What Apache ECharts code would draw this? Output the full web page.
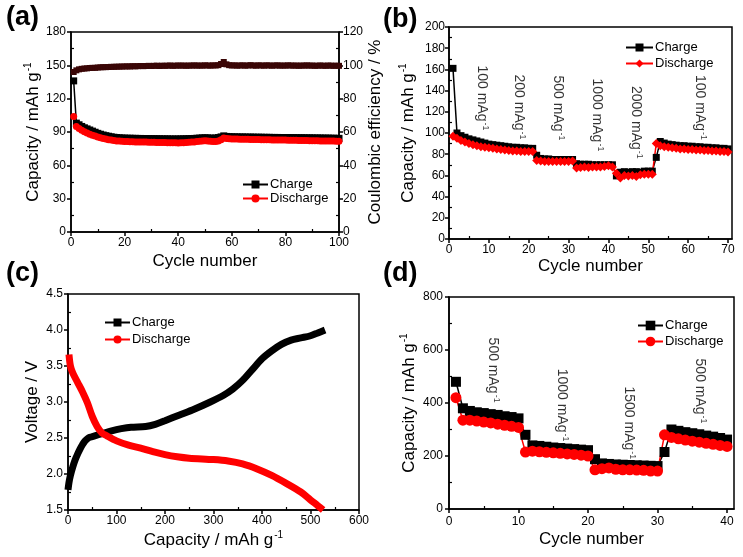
<!DOCTYPE html>
<html>
<head>
<meta charset="utf-8">
<script src="https://cdn.jsdelivr.net/npm/echarts@6/dist/echarts.min.js"></script>
<style>html,body{margin:0;padding:0;background:#fff}#c{width:743px;height:557px}</style>
</head>
<body>
<div id="c"></div>
<script>
// ---------- Panel (a): cycling at constant rate ----------
const aCycles = Array.from({length: 100}, (_, i) => i + 1);
const aCharge = [136, 98, 96.5, 95, 93.8, 92.8, 91.8, 90.8, 89.8, 88.8, 88, 87.3, 86.7, 86.2, 85.7, 85.3, 85, 84.8, 84.6, 84.5,
  84.4, 84.4, 84.3, 84.3, 84.2, 84.2, 84.1, 84.1, 84, 84,
  84, 83.9, 83.9, 83.8, 83.8, 83.8, 83.7, 83.7, 83.7, 83.7,
  83.8, 83.8, 83.9, 84, 84.1, 84.2, 84.4, 84.5, 84.7, 84.8,
  84.7, 84.5, 84.4, 84.6, 85, 85.6, 86.5, 86, 85.8, 85.7,
  85.6, 85.6, 85.5, 85.5, 85.5, 85.4, 85.4, 85.4, 85.3, 85.3,
  85.3, 85.2, 85.2, 85.2, 85.1, 85.1, 85.1, 85, 85, 85,
  85, 84.9, 84.9, 84.9, 84.8, 84.8, 84.8, 84.7, 84.7, 84.7,
  84.6, 84.6, 84.6, 84.5, 84.5, 84.5, 84.4, 84.4, 84.3, 84.3];
const aDischarge = [104, 95, 93.2, 91.6, 90.2, 89, 88, 87.1, 86.3, 85.5, 84.8, 84.2, 83.6, 83.1, 82.7, 82.3, 82, 81.8, 81.6, 81.5,
  81.4, 81.3, 81.2, 81.1, 81, 81, 80.9, 80.9, 80.8, 80.8,
  80.7, 80.6, 80.6, 80.5, 80.5, 80.4, 80.4, 80.3, 80.3, 80.2,
  80.3, 80.4, 80.5, 80.7, 80.9, 81.1, 81.4, 81.7, 82, 82.2,
  82, 81.7, 81.4, 81.5, 82, 83, 84.5, 84.2, 84, 83.8,
  83.7, 83.6, 83.5, 83.5, 83.4, 83.4, 83.3, 83.3, 83.2, 83.2,
  83.1, 83.1, 83, 83, 82.9, 82.9, 82.8, 82.8, 82.7, 82.7,
  82.6, 82.6, 82.5, 82.5, 82.4, 82.4, 82.3, 82.3, 82.2, 82.2,
  82.1, 82.1, 82, 82, 81.9, 81.9, 81.8, 81.8, 81.7, 81.7];
const aEfficiency = [96, 97, 97.6, 97.9, 98.1, 98.2, 98.4, 98.5, 98.5, 98.7, 98.8, 98.9, 98.9, 99, 99.1, 99.1, 99.2, 99.2, 99.3, 99.3,
  99.4, 99.3, 99.5, 99.4, 99.5, 99.6, 99.5, 99.6, 99.7, 99.6,
  99.7, 99.8, 99.6, 99.8, 99.7, 99.8, 99.9, 99.7, 99.8, 99.9,
  99.8, 99.9, 99.7, 99.9, 99.8, 100, 99.8, 99.9, 99.8, 100,
  99.9, 99.8, 100, 99.9, 100.1, 100.8, 102, 100.6, 100.1, 99.9,
  100, 99.8, 99.9, 100, 99.8, 99.9, 100.1, 99.9, 99.8, 100,
  99.9, 99.8, 100, 99.9, 99.8, 99.9, 100, 99.8, 99.9, 99.8,
  100, 99.9, 99.8, 99.9, 99.7, 99.9, 99.8, 100, 99.8, 99.9,
  99.7, 99.8, 99.9, 99.8, 99.7, 99.9, 99.8, 99.7, 99.8, 99.7];

// ---------- Panel (b): rate capability ----------
const bCycles = Array.from({length: 70}, (_, i) => i + 1);
const bCharge = [161, 100, 97.5, 96, 94.5, 93.5, 92.5, 91.5, 90.5, 89.5, 89,
  88.5, 88, 87.5, 87, 86.5, 86.5, 86, 86, 85.5, 85.5,
  79, 76, 75.5, 75.5, 75, 75, 75, 75, 75, 75,
  71, 70.5, 70.5, 70.5, 70, 70, 70, 70, 70, 70,
  59.5, 63, 63.5, 63, 63.5, 63.5, 63, 64, 64, 64,
  77, 92, 90.5, 89.5, 89, 88.5, 88, 88, 87.5, 87.5,
  87, 87, 86.5, 86.5, 86, 86, 85.5, 85.5, 85];
const bDischarge = [97, 95, 93, 91.5, 90, 89, 88, 87, 86.5, 86, 85.5,
  85, 84.5, 84, 83.5, 83, 83, 82.5, 82.5, 82.5, 82.5,
  74, 73.5, 73, 73, 73, 73, 73, 73, 73, 73.5,
  67, 67.5, 68, 67.5, 68, 68, 68, 68.5, 69, 68,
  62, 57.5, 60, 59.5, 60, 59, 60.5, 61, 61, 61,
  90, 88, 87, 86.5, 86, 85.5, 85, 85, 84.5, 84.5,
  84, 84, 83.5, 83.5, 83, 83, 82.5, 82.5, 82];
const bRates = ['100', '200', '500', '1000', '2000', '100'];
const bRateX = [8.3, 17.6, 27.4, 37.1, 46.9, 63];
const bRateY = [133, 124.5, 123.6, 117, 110, 124];
const bTickLabels = [0, 10, 20, 30, 40, 50, 60, 70];

// ---------- Panel (c): charge/discharge profile ----------
const cChargeCap = [0, 2, 5, 10, 15, 20, 25, 30, 35, 40, 45, 55, 70, 90, 110, 130, 160, 180, 200, 230, 260, 290, 320, 340, 360, 380, 400, 420, 440, 460, 480, 500, 515, 530];
const cChargeV = [1.78, 1.88, 1.98, 2.1, 2.2, 2.28, 2.35, 2.41, 2.46, 2.49, 2.51, 2.53, 2.56, 2.6, 2.63, 2.65, 2.66, 2.69, 2.74, 2.82, 2.9, 2.99, 3.09, 3.18, 3.3, 3.45, 3.6, 3.71, 3.8, 3.86, 3.89, 3.92, 3.96, 4.0];
const cDischargeCap = [2, 5, 10, 20, 30, 40, 50, 60, 70, 80, 100, 125, 150, 175, 200, 225, 250, 300, 330, 360, 390, 420, 450, 480, 500, 515, 526];
const cDischargeV = [3.66, 3.5, 3.4, 3.27, 3.14, 2.99, 2.8, 2.66, 2.57, 2.53, 2.46, 2.4, 2.36, 2.31, 2.27, 2.24, 2.22, 2.2, 2.18, 2.14, 2.07, 1.98, 1.87, 1.75, 1.64, 1.56, 1.5];

// ---------- Panel (d): rate capability ----------
const dCycles = Array.from({length: 40}, (_, i) => i + 1);
const dCharge = [480, 380, 370, 365, 362, 358, 355, 350, 347, 342,
  280, 240, 238, 235, 232, 230, 228, 226, 224, 222,
  188, 172, 170, 168, 167, 166, 165, 164, 163, 162,
  215, 300, 295, 290, 286, 282, 277, 273, 268, 262];
const dDischarge = [420, 335, 335, 332, 328, 325, 320, 316, 312, 308,
  215, 218, 216, 214, 212, 210, 208, 206, 203, 200,
  148, 152, 155, 150, 148, 148, 147, 146, 143, 143,
  280, 270, 265, 260, 256, 252, 248, 244, 240, 236];
const dRates = ['500', '1000', '1500', '500'];
const dRateX = [6.3, 16.2, 25.9, 36.1];
const dRateY = [524, 392, 325, 445];
const dTickLabels = [0, 10, 20, 30, 40];

// ---------- Styling ----------
const FONT = '"Liberation Sans", Arial, Helvetica, sans-serif';
const BLACK = '#000000';
const RED = '#ff0000';
const CE = '#3a0606';

const richName = {
  m: {fontFamily: FONT, fontSize: 17, color: BLACK, lineHeight: 20},
  s: {fontFamily: FONT, fontSize: 10, color: BLACK, lineHeight: 20, verticalAlign: 'top', padding: [0, 0, 8, 1]}
};
const richAnn = {
  m: {fontFamily: FONT, fontSize: 14, color: BLACK, lineHeight: 16},
  s: {fontFamily: FONT, fontSize: 9, color: BLACK, lineHeight: 16, verticalAlign: 'top', padding: [0, 0, 7, 1]}
};

function pair(xs, ys) { return xs.map((x, i) => [x, ys[i]]); }

function axis(o) {
  const base = {
    axisLine: {show: true, onZero: false, lineStyle: {color: BLACK, width: 1.5}},
    axisTick: {show: true, inside: false, length: 4, lineStyle: {color: BLACK, width: 1.5}},
    minorTick: {show: true, splitNumber: 2, length: -3, lineStyle: {color: BLACK, width: 1.2}},
    splitLine: {show: false},
    axisLabel: {color: BLACK, fontFamily: FONT, fontSize: 12, margin: 5},
    nameLocation: 'middle',
    nameTextStyle: {color: BLACK, fontFamily: FONT, fontSize: 17, rich: richName}
  };
  const r = Object.assign({}, base, o);
  if (o.axisLabel) r.axisLabel = Object.assign({}, base.axisLabel, o.axisLabel);
  if (o.axisTick) r.axisTick = Object.assign({}, base.axisTick, o.axisTick);
  return r;
}

const gridBox = {show: true, borderColor: BLACK, borderWidth: 1.5, backgroundColor: 'transparent', containLabel: false};

const legendBase = {
  orient: 'vertical', itemWidth: 25, itemHeight: 10, itemGap: 3,
  textStyle: {color: BLACK, fontFamily: FONT, fontSize: 13, padding: [0, 0, 0, -3]},
  formatter: n => n.split('|')[0],
  selectedMode: false
};

const option = {
  animation: false,
  backgroundColor: '#fff',
  grid: [
    Object.assign({left: 71, top: 32, width: 268, height: 200}, gridBox),
    Object.assign({left: 449, top: 27, width: 283, height: 212}, gridBox),
    Object.assign({left: 68, top: 294, width: 291, height: 216}, gridBox),
    Object.assign({left: 449, top: 297, width: 285, height: 212}, gridBox)
  ],
  xAxis: [
    axis({type: 'value', gridIndex: 0, min: 0, max: 100, interval: 20, name: 'Cycle number', nameGap: 21}),
    axis({type: 'value', gridIndex: 1, min: 0, max: 71, interval: 10, name: 'Cycle number', nameGap: 19,
      axisLabel: {customValues: bTickLabels}, axisTick: {customValues: bTickLabels}}),
    axis({type: 'value', gridIndex: 2, min: 0, max: 600, interval: 100, name: '{m|Capacity / mAh g}{s|-1}', nameGap: 20}),
    axis({type: 'value', gridIndex: 3, min: 0, max: 41, interval: 10, name: 'Cycle number', nameGap: 22,
      axisLabel: {margin: 7, customValues: dTickLabels}, axisTick: {customValues: dTickLabels}})
  ],
  yAxis: [
    axis({type: 'value', gridIndex: 0, min: 0, max: 180, interval: 30, name: '{m|Capacity / mAh g}{s|-1}', nameGap: 27, nameRotate: 90}),
    axis({type: 'value', gridIndex: 0, position: 'right', min: 0, max: 120, interval: 20, name: 'Coulombic efficiency / %', nameGap: 24, nameRotate: 90,
      axisLabel: {margin: 4}}),
    axis({type: 'value', gridIndex: 1, min: 0, max: 200, interval: 20, name: '{m|Capacity / mAh g}{s|-1}', nameGap: 31, nameRotate: 90,
      axisLabel: {margin: 4}}),
    axis({type: 'value', gridIndex: 2, min: 1.5, max: 4.5, interval: 0.5, name: 'Voltage / V', nameGap: 27, nameRotate: 90,
      axisLabel: {formatter: v => v.toFixed(1)}}),
    axis({type: 'value', gridIndex: 3, min: 0, max: 800, interval: 200, name: '{m|Capacity / mAh g}{s|-1}', nameGap: 30, nameRotate: 90,
      axisLabel: {margin: 6}})
  ],
  legend: [
    Object.assign({}, legendBase, {left: 237, top: 173, itemGap: 1, data: ['Charge|a', 'Discharge|a']}),
    Object.assign({}, legendBase, {left: 620, top: 36, itemWidth: 27, data: ['Charge|b', 'Discharge|b']}),
    Object.assign({}, legendBase, {left: 99, top: 311, itemGap: 4, data: ['Charge|c', 'Discharge|c']}),
    Object.assign({}, legendBase, {left: 632, top: 314, itemHeight: 12, data: ['Charge|d', 'Discharge|d']})
  ],
  graphic: [
    {type: 'text', left: 6, top: 4, style: {text: '(a)', font: 'bold 27px ' + FONT, fill: BLACK}},
    {type: 'text', left: 383, top: 6, style: {text: '(b)', font: 'bold 27px ' + FONT, fill: BLACK}},
    {type: 'text', left: 6, top: 260, style: {text: '(c)', font: 'bold 27px ' + FONT, fill: BLACK}},
    {type: 'text', left: 383, top: 260, style: {text: '(d)', font: 'bold 27px ' + FONT, fill: BLACK}}
  ],
  series: [
    // (a)
    {name: 'Coulombic efficiency', type: 'line', xAxisIndex: 0, yAxisIndex: 1, data: pair(aCycles, aEfficiency),
      symbol: 'rect', symbolSize: 6, lineStyle: {color: CE, width: 4}, itemStyle: {color: CE}},
    {name: 'Charge|a', type: 'line', xAxisIndex: 0, yAxisIndex: 0, data: pair(aCycles, aCharge),
      symbol: 'rect', symbolSize: 7, lineStyle: {color: BLACK, width: 1.5}, itemStyle: {color: BLACK}},
    {name: 'Discharge|a', type: 'line', xAxisIndex: 0, yAxisIndex: 0, data: pair(aCycles, aDischarge),
      symbol: 'circle', symbolSize: 7, lineStyle: {color: RED, width: 1.5}, itemStyle: {color: RED}},
    // (b)
    {name: 'Charge|b', type: 'line', xAxisIndex: 1, yAxisIndex: 2, data: pair(bCycles, bCharge),
      symbol: 'rect', symbolSize: 7, lineStyle: {color: BLACK, width: 1.5}, itemStyle: {color: BLACK}},
    {name: 'Discharge|b', type: 'line', xAxisIndex: 1, yAxisIndex: 2, data: pair(bCycles, bDischarge),
      symbol: 'diamond', symbolSize: 9, lineStyle: {color: RED, width: 1.5}, itemStyle: {color: RED}},
    {name: 'rates-b', type: 'scatter', xAxisIndex: 1, yAxisIndex: 2, symbolSize: 0, silent: true,
      data: bRates.map((r, i) => [bRateX[i], bRateY[i]]),
      label: {show: true, position: 'inside', rotate: -90, formatter: p => '{m|' + bRates[p.dataIndex] + ' mAg}{s|-1}', rich: richAnn}},
    // (c)
    {name: 'Charge|c', type: 'line', xAxisIndex: 2, yAxisIndex: 3, data: pair(cChargeCap, cChargeV), smooth: 0.3,
      symbol: 'rect', symbolSize: 7, showSymbol: false, lineStyle: {color: BLACK, width: 7}, itemStyle: {color: BLACK}},
    {name: 'Discharge|c', type: 'line', xAxisIndex: 2, yAxisIndex: 3, data: pair(cDischargeCap, cDischargeV), smooth: 0.3,
      symbol: 'circle', symbolSize: 7, showSymbol: false, lineStyle: {color: RED, width: 7}, itemStyle: {color: RED}},
    // (d)
    {name: 'Charge|d', type: 'line', xAxisIndex: 3, yAxisIndex: 4, data: pair(dCycles, dCharge),
      symbol: 'rect', symbolSize: 10, lineStyle: {color: BLACK, width: 1.5}, itemStyle: {color: BLACK}},
    {name: 'Discharge|d', type: 'line', xAxisIndex: 3, yAxisIndex: 4, data: pair(dCycles, dDischarge),
      symbol: 'circle', symbolSize: 11, lineStyle: {color: RED, width: 1.5}, itemStyle: {color: RED}},
    {name: 'rates-d', type: 'scatter', xAxisIndex: 3, yAxisIndex: 4, symbolSize: 0, silent: true,
      data: dRates.map((r, i) => [dRateX[i], dRateY[i]]),
      label: {show: true, position: 'inside', rotate: -90, formatter: p => '{m|' + dRates[p.dataIndex] + ' mAg}{s|-1}', rich: richAnn}}
  ]
};

const chart = echarts.init(document.getElementById('c'), null, {renderer: 'canvas'});
chart.setOption(option);
</script>
</body>
</html>
